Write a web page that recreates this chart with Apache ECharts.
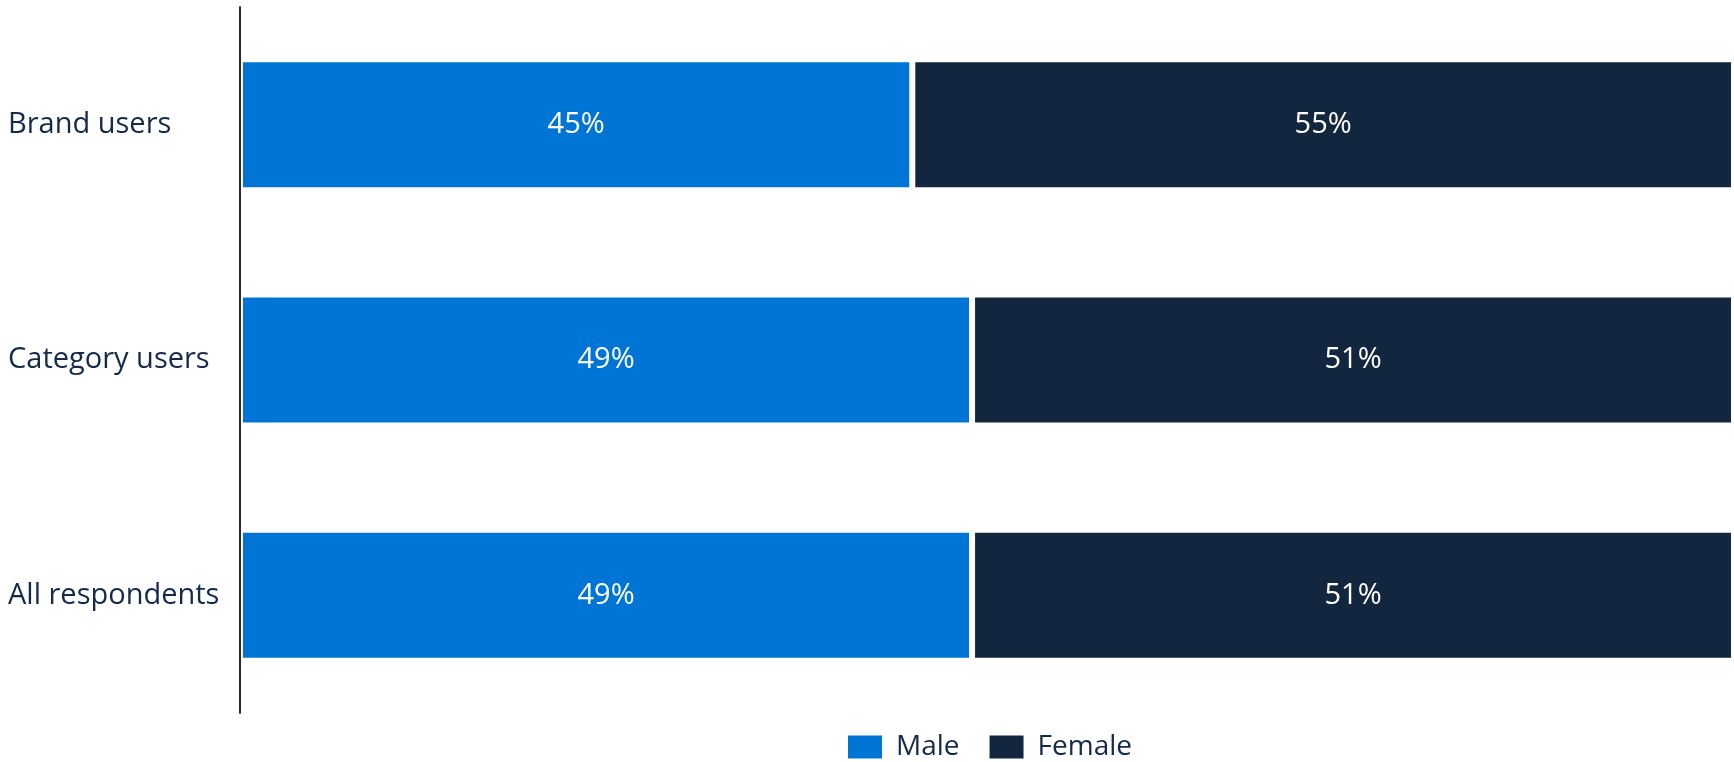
<!DOCTYPE html>
<html>
<head>
<meta charset="utf-8">
<script src="https://cdn.jsdelivr.net/npm/echarts@6/dist/echarts.min.js"></script>
<style>
  html, body { margin: 0; padding: 0; background: #ffffff; }
  #chart { width: 1734px; height: 762px; }
</style>
</head>
<body>
<div id="chart"></div>
<script>
// Gender split per respondent group (percent)
const categories = ['All respondents', 'Category users', 'Brand users'];
const seriesNames = ['Male', 'Female'];
const maleValues = [49, 49, 45];
const femaleValues = [51, 51, 55];

const MALE_COLOR = '#0075d5';
const FEMALE_COLOR = '#13263f';
const TEXT_COLOR = '#15294a';
const FONT = '"Open Sans", "Noto Sans", sans-serif';

const chart = echarts.init(document.getElementById('chart'), null, { renderer: 'canvas' });

function barSeries(name, values, color) {
  return {
    name: name,
    type: 'bar',
    stack: 'total',
    data: values,
    barWidth: 131,
    itemStyle: { color: color, borderColor: '#ffffff', borderWidth: 3 },
    label: {
      show: true,
      position: 'inside',
      formatter: '{c}%',
      color: '#ffffff',
      fontFamily: FONT,
      fontSize: 29
    },
    emphasis: { disabled: true }
  };
}

chart.setOption({
  animation: false,
  backgroundColor: '#ffffff',
  textStyle: { fontFamily: FONT },
  grid: { left: 240, right: -2, top: 7, bottom: 49, containLabel: false },
  xAxis: {
    type: 'value',
    min: 0,
    max: 100,
    show: false
  },
  yAxis: {
    type: 'category',
    data: categories,
    z: 5,
    axisLine: { show: true, lineStyle: { color: '#2b2b2b', width: 2 } },
    axisTick: { show: false },
    splitLine: { show: false },
    axisLabel: {
      align: 'left',
      margin: 232,
      color: TEXT_COLOR,
      fontFamily: FONT,
      fontSize: 29
    }
  },
  legend: {
    data: seriesNames,
    left: 846,
    top: 733,
    padding: 0,
    itemWidth: 36,
    itemHeight: 25,
    itemGap: 28,
    icon: 'rect',
    selectedMode: false,
    textStyle: {
      color: TEXT_COLOR,
      fontFamily: FONT,
      fontSize: 28,
      padding: [0, 0, 0, 8]
    }
  },
  series: [
    barSeries(seriesNames[0], maleValues, MALE_COLOR),
    barSeries(seriesNames[1], femaleValues, FEMALE_COLOR)
  ]
});
</script>
</body>
</html>
